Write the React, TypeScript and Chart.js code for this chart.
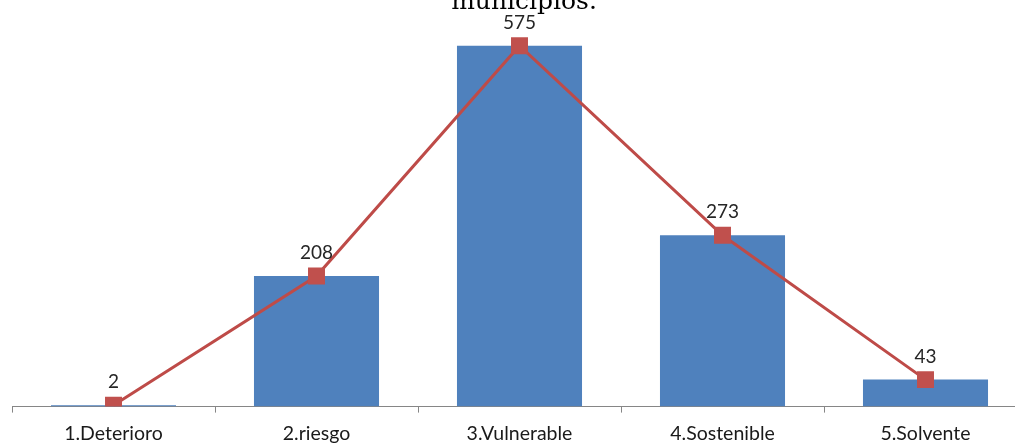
import React, { useEffect, useRef } from "react";
import { Chart, registerables } from "chart.js";

Chart.register(...registerables);

const titleText = "municipios.";
const categories = ["1.Deterioro", "2.riesgo", "3.Vulnerable", "4.Sostenible", "5.Solvente"];
const barValues = [2, 208, 575, 273, 43];
const lineValues = [2, 208, 575, 273, 43];

const labelPlugin = {
  id: "valueLabels",
  afterDatasetsDraw(chart: any) {
    const ctx = chart.ctx;
    const meta = chart.getDatasetMeta(0);
    ctx.save();
    ctx.font = '19px Lato';
    ctx.fillStyle = "#262626";
    ctx.textAlign = "center";
    ctx.textBaseline = "middle";
    meta.data.forEach((pt: any, i: number) => {
      ctx.fillText(String(lineValues[i]), pt.x, pt.y - 23);
    });
    ctx.restore();
  },
};

const titlePlugin = {
  id: "cutTitle",
  afterDraw(chart: any) {
    const ctx = chart.ctx;
    ctx.save();
    ctx.font = '25px "DejaVu Serif"';
    ctx.fillStyle = "#000";
    ctx.textAlign = "center";
    ctx.textBaseline = "alphabetic";
    ctx.fillText(titleText, 524, 9);
    ctx.restore();
  },
};

export default function App() {
  const ref = useRef<HTMLCanvasElement>(null);
  useEffect(() => {
    if (!ref.current) return;
    const chart = new Chart(ref.current, {
      type: "bar",
      data: {
        labels: categories,
        datasets: [
          {
            type: "line" as const,
            data: lineValues,
            borderColor: "#BE4B48",
            borderWidth: 3,
            backgroundColor: "#C0504D",
            pointStyle: "rect",
            pointRadius: 12,
            pointBorderWidth: 0,
            pointBackgroundColor: "#C0504D",
            tension: 0,
            order: 0,
          },
          {
            type: "bar" as const,
            data: barValues,
            backgroundColor: "#4F81BD",
            barPercentage: 1,
            categoryPercentage: 0.616,
            order: 1,
          },
        ],
      },
      options: {
        responsive: false,
        animation: false,
        layout: { padding: { left: 12, right: 13, top: 30, bottom: 4 } },
        plugins: {
          legend: { display: false },
          tooltip: { enabled: false },
          title: { display: false },
        },
        scales: {
          x: {
            offset: true,
            grid: {
              offset: true,
              drawOnChartArea: false,
              drawTicks: true,
              tickLength: 6,
              color: "#868686",
            },
            border: { display: true, color: "#868686", width: 1 },
            ticks: {
              padding: 9,
              color: "#1a1a1a",
              font: { family: "Lato", size: 19.5 },
              maxRotation: 0,
            },
          },
          y: {
            display: false,
            min: 0,
            max: 600,
          },
        },
      },
      plugins: [labelPlugin, titlePlugin],
    });
    return () => chart.destroy();
  }, []);
  return (
    <div
      style={{
        position: "fixed",
        left: 0,
        top: 0,
        width: 1015,
        height: 445,
        overflow: "hidden",
        background: "#fff",
      }}
    >
      <canvas ref={ref} width={1040} height={458} style={{ display: "block", width: 1040, height: 458 }} />
    </div>
  );
}
